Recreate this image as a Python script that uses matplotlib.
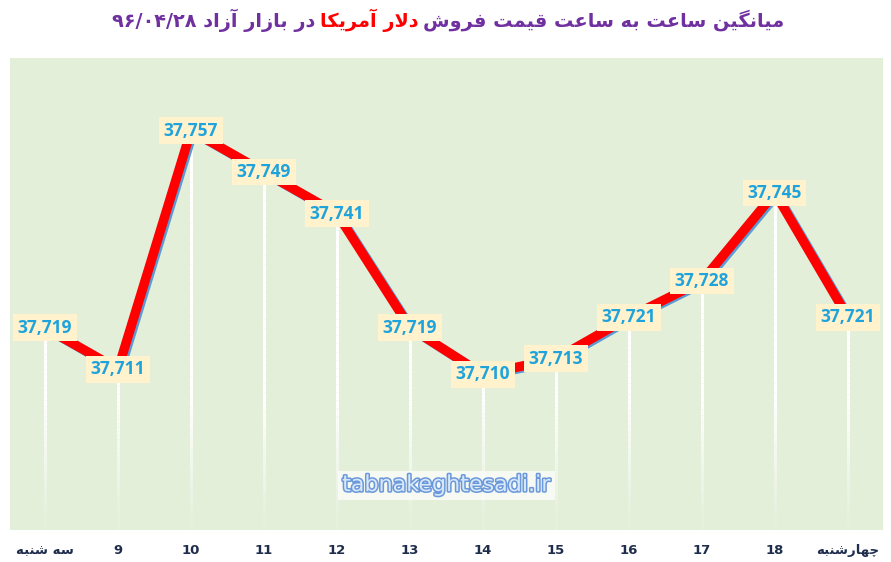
import numpy as np
import matplotlib
matplotlib.use('Agg')
import matplotlib.pyplot as plt
import matplotlib.patheffects as pe
from matplotlib.collections import LineCollection
from matplotlib.transforms import offset_copy

# data
hours = ['سه شنبه', '9', '10', '11', '12', '13', '14', '15', '16', '17', '18', 'چهارشنبه']
prices = [37719, 37711, 37757, 37749, 37741, 37719, 37710, 37713, 37721, 37728, 37745, 37721]
title_parts = ['میانگین ساعت به ساعت قیمت فروش', 'دلار آمریکا', 'در بازار آزاد ۹۶/۰۴/۲۸']
title_colors = ['#7030A0', '#FF0000', '#7030A0']

# small persian shaper (isolated, final, initial, medial)
FORMS = {
    '\u0622': ('\uFE81', '\uFE82', None, None),
    '\u0627': ('\uFE8D', '\uFE8E', None, None),
    '\u0628': ('\uFE8F', '\uFE90', '\uFE91', '\uFE92'),
    '\u062A': ('\uFE95', '\uFE96', '\uFE97', '\uFE98'),
    '\u062F': ('\uFEA9', '\uFEAA', None, None),
    '\u0631': ('\uFEAD', '\uFEAE', None, None),
    '\u0632': ('\uFEAF', '\uFEB0', None, None),
    '\u0633': ('\uFEB1', '\uFEB2', '\uFEB3', '\uFEB4'),
    '\u0634': ('\uFEB5', '\uFEB6', '\uFEB7', '\uFEB8'),
    '\u0639': ('\uFEC9', '\uFECA', '\uFECB', '\uFECC'),
    '\u0641': ('\uFED1', '\uFED2', '\uFED3', '\uFED4'),
    '\u0642': ('\uFED5', '\uFED6', '\uFED7', '\uFED8'),
    '\u0644': ('\uFEDD', '\uFEDE', '\uFEDF', '\uFEE0'),
    '\u0645': ('\uFEE1', '\uFEE2', '\uFEE3', '\uFEE4'),
    '\u0646': ('\uFEE5', '\uFEE6', '\uFEE7', '\uFEE8'),
    '\u0647': ('\uFEE9', '\uFEEA', '\uFEEB', '\uFEEC'),
    '\u0648': ('\uFEED', '\uFEEE', None, None),
    '\u06CC': ('\uFBFC', '\uFBFD', '\uFBFE', '\uFBFF'),
    '\u06A9': ('\uFB8E', '\uFB8F', '\uFB90', '\uFB91'),
    '\u06AF': ('\uFB92', '\uFB93', '\uFB94', '\uFB95'),
    '\u0686': ('\uFB7A', '\uFB7B', '\uFB7C', '\uFB7D'),
}
LAMALEF = {'\u0627': ('\uFEFB', '\uFEFC'), '\u0622': ('\uFEF5', '\uFEF6')}


def joins_next(c):
    return c in FORMS and FORMS[c][2] is not None


def shape(s):
    out = []
    i = 0
    while i < len(s):
        c = s[i]
        if c not in FORMS:
            out.append(c)
            i += 1
            continue
        prev = s[i - 1] if i > 0 else ''
        pj = joins_next(prev)
        nxt = s[i + 1] if i + 1 < len(s) else ''
        if c == '\u0644' and nxt in LAMALEF:
            out.append(LAMALEF[nxt][1 if pj else 0])
            i += 2
            continue
        nj = joins_next(c) and nxt in FORMS
        f = FORMS[c]
        if pj and nj:
            out.append(f[3])
        elif pj:
            out.append(f[1])
        elif nj:
            out.append(f[2])
        else:
            out.append(f[0])
        i += 1
    return ''.join(out)


def rtl(s):
    if not any(c in FORMS for c in s):
        return s
    r = shape(s)[::-1]
    # put digit runs back in LTR order
    res, run = [], ''
    for c in r:
        if c.isdigit() or (c == '/' and run):
            run += c
        else:
            if run:
                res.append(run[::-1])
                run = ''
            res.append(c)
    if run:
        res.append(run[::-1])
    return ''.join(res)


W, H = 891, 562
fig = plt.figure(figsize=(W / 100, H / 100), dpi=100)
fig.patch.set_facecolor('white')
ax = fig.add_axes([10 / W, (H - 530) / H, 873 / W, 472 / H])
ax.set_facecolor('#E3EFD9')
for s in ax.spines.values():
    s.set_visible(False)

x = np.arange(len(prices))
ax.set_xlim(-0.48, len(prices) - 0.52)
ax.set_ylim(37680, 37771)
ybot = 37680

# white drop lines fading to the bottom
segs, cols = [], []
for xi, yi in zip(x, prices):
    ys = np.linspace(yi, ybot, 40)
    for a, b in zip(ys[:-1], ys[1:]):
        segs.append([(xi, a), (xi, b)])
        alpha = float(np.clip((0.5 * (a + b) - ybot) / 25.0, 0.12, 1.0))
        cols.append((1, 1, 1, alpha))
ax.add_collection(LineCollection(segs, colors=cols, linewidths=2.2, zorder=2))

# shadowed red line
shadow_tr = offset_copy(ax.transData, fig=fig, x=2, y=-1.5, units='dots')
ax.plot(x, prices, color='#5B9BD5', lw=6.8, transform=shadow_tr, zorder=3,
        solid_joinstyle='miter')
ax.plot(x, prices, color='#FF0000', lw=6.8, zorder=4, solid_joinstyle='miter')

for xi, yi in zip(x, prices):
    ax.text(xi, yi, f'{yi:,}', ha='center', va='center', fontsize=12.5,
            fontweight='bold', family='Open Sans', color='#1FA3DC', zorder=6,
            bbox=dict(boxstyle='square,pad=0.25', fc='#FFF2CC', ec='none'))

ax.set_xticks(x)
ax.set_xticklabels([rtl(h) for h in hours], fontsize=9.5, fontweight='bold',
                   color='#1F2D4D', family='DejaVu Sans')
ax.tick_params(axis='x', length=0, pad=10)
ax.set_yticks([])

# watermark
ax.text(0.5, 0.095, 'tabnakeghtesadi.ir', transform=ax.transAxes, ha='center',
        va='center', fontsize=16, family='DejaVu Sans', color='#D8E8FA', zorder=5,
        path_effects=[pe.withStroke(linewidth=2.2, foreground='#6A98DA')],
        bbox=dict(boxstyle='square,pad=0.2', fc='white', ec='none', alpha=0.7))

# title in three colored pieces, right to left
texts = [fig.text(0, 1 - 20 / H, rtl(p), color=c, fontsize=14, fontweight='bold',
                  family='DejaVu Sans', ha='left', va='center')
         for p, c in zip(title_parts, title_colors)]
renderer = fig.canvas.get_renderer()
tot = sum(t.get_window_extent(renderer).width for t in texts)
size = 14 * 665 / tot
for t in texts:
    t.set_fontsize(size)
widths = [t.get_window_extent(renderer).width for t in texts]
gap = size * 0.35
total = sum(widths) + gap * (len(widths) - 1)
right = 448 + total / 2
for t, w in zip(texts, widths):
    t.set_x((right - w) / W)
    right -= w + gap

fig.savefig('out.png', dpi=100)
